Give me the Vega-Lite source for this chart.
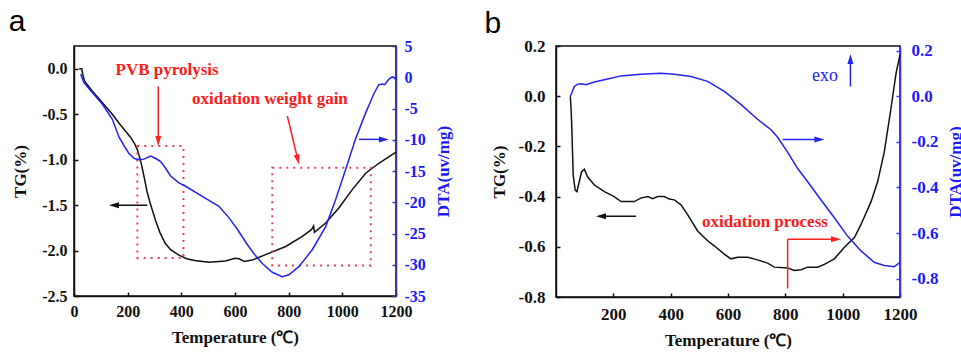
{
  "$schema": "https://vega.github.io/schema/vega-lite/v6.json",
  "padding": {"left": 8, "top": 6, "right": 0, "bottom": 0},
  "spacing": 30,
  "config": {
    "font": "Liberation Serif",
    "view": {"stroke": "#111111", "strokeWidth": 1.5},
    "axis": {
      "grid": false,
      "labelFont": "Liberation Serif", "labelFontWeight": "bold", "labelFontSize": 16, "labelColor": "#111111",
      "titleFont": "Liberation Serif", "titleFontWeight": "bold", "titleFontSize": 17, "titleColor": "#111111",
      "domainColor": "#111111", "domainWidth": 1.5, "tickColor": "#111111", "tickWidth": 1.5, "tickSize": -4,
      "labelFlush": false, "labelOverlap": false, "labelBound": false
    }
  },
  "datasets": {
    "tgA": [
      {"T":19,"v":0},{"T":29,"v":0},{"T":33,"v":-0.07},{"T":40,"v":-0.14},{"T":68,"v":-0.245},{"T":106,"v":-0.375},{"T":143,"v":-0.5},{"T":168,"v":-0.6},{"T":190,"v":-0.68},{"T":210,"v":-0.75},{"T":225,"v":-0.82},{"T":236,"v":-0.89},{"T":244,"v":-0.97},{"T":252,"v":-1.06},{"T":262,"v":-1.2},{"T":272,"v":-1.35},{"T":286,"v":-1.5},{"T":304,"v":-1.67},{"T":320,"v":-1.8},{"T":340,"v":-1.92},{"T":360,"v":-1.99},{"T":391,"v":-2.05},{"T":420,"v":-2.09},{"T":450,"v":-2.11},{"T":503,"v":-2.13},{"T":565,"v":-2.115},{"T":600,"v":-2.085},{"T":615,"v":-2.09},{"T":635,"v":-2.12},{"T":664,"v":-2.105},{"T":714,"v":-2.045},{"T":789,"v":-1.955},{"T":851,"v":-1.845},{"T":885,"v":-1.77},{"T":893,"v":-1.73},{"T":896,"v":-1.8},{"T":938,"v":-1.697},{"T":987,"v":-1.532},{"T":1037,"v":-1.33},{"T":1087,"v":-1.15},{"T":1136,"v":-1.04},{"T":1200,"v":-0.917}
    ],
    "dtaA": [
      {"T":25,"v":0.5},{"T":37,"v":-0.84},{"T":68,"v":-2.44},{"T":106,"v":-4.32},{"T":143,"v":-6.73},{"T":168,"v":-9.6},{"T":190,"v":-11.2},{"T":205,"v":-12.2},{"T":225,"v":-13.0},{"T":245,"v":-13.2},{"T":260,"v":-13.1},{"T":286,"v":-12.6},{"T":305,"v":-13.0},{"T":323,"v":-13.5},{"T":342,"v":-14.6},{"T":360,"v":-15.8},{"T":391,"v":-16.9},{"T":416,"v":-17.44},{"T":478,"v":-19.05},{"T":540,"v":-20.65},{"T":578,"v":-22.5},{"T":610,"v":-24.4},{"T":640,"v":-26.4},{"T":670,"v":-28.2},{"T":702,"v":-29.8},{"T":739,"v":-31.2},{"T":776,"v":-31.9},{"T":801,"v":-31.6},{"T":838,"v":-30.3},{"T":888,"v":-27.6},{"T":938,"v":-23.9},{"T":975,"v":-19.6},{"T":1012,"v":-14.8},{"T":1049,"v":-9.9},{"T":1087,"v":-5.7},{"T":1118,"v":-2.6},{"T":1136,"v":-1.2},{"T":1150,"v":-1.1},{"T":1158,"v":-1.2},{"T":1174,"v":-0.3},{"T":1186,"v":0.05},{"T":1195,"v":-0.1},{"T":1200,"v":-0.5}
    ],
    "tgB": [
      {"T":50,"v":0.0},{"T":53,"v":-0.06},{"T":55,"v":-0.12},{"T":60,"v":-0.315},{"T":67,"v":-0.374},{"T":73,"v":-0.38},{"T":81,"v":-0.341},{"T":89,"v":-0.302},{"T":99,"v":-0.291},{"T":110,"v":-0.321},{"T":134,"v":-0.354},{"T":169,"v":-0.38},{"T":203,"v":-0.4},{"T":227,"v":-0.42},{"T":273,"v":-0.42},{"T":296,"v":-0.406},{"T":320,"v":-0.4},{"T":337,"v":-0.408},{"T":355,"v":-0.4},{"T":378,"v":-0.4},{"T":395,"v":-0.41},{"T":413,"v":-0.413},{"T":436,"v":-0.433},{"T":459,"v":-0.472},{"T":494,"v":-0.537},{"T":529,"v":-0.576},{"T":552,"v":-0.596},{"T":587,"v":-0.629},{"T":610,"v":-0.648},{"T":634,"v":-0.642},{"T":669,"v":-0.642},{"T":703,"v":-0.652},{"T":738,"v":-0.665},{"T":762,"v":-0.681},{"T":808,"v":-0.684},{"T":831,"v":-0.694},{"T":855,"v":-0.691},{"T":878,"v":-0.681},{"T":913,"v":-0.681},{"T":936,"v":-0.67},{"T":971,"v":-0.648},{"T":1006,"v":-0.602},{"T":1041,"v":-0.563},{"T":1064,"v":-0.511},{"T":1099,"v":-0.42},{"T":1122,"v":-0.341},{"T":1145,"v":-0.223},{"T":1168,"v":-0.053},{"T":1186,"v":0.09},{"T":1200,"v":0.165}
    ],
    "dtaB": [
      {"T":50,"v":0.0},{"T":55,"v":0.014},{"T":64,"v":0.043},{"T":76,"v":0.053},{"T":87,"v":0.055},{"T":105,"v":0.05},{"T":134,"v":0.062},{"T":180,"v":0.075},{"T":227,"v":0.089},{"T":296,"v":0.096},{"T":366,"v":0.101},{"T":413,"v":0.096},{"T":471,"v":0.086},{"T":529,"v":0.065},{"T":587,"v":0.021},{"T":645,"v":-0.036},{"T":703,"v":-0.101},{"T":750,"v":-0.147},{"T":773,"v":-0.18},{"T":808,"v":-0.245},{"T":843,"v":-0.317},{"T":878,"v":-0.375},{"T":924,"v":-0.454},{"T":971,"v":-0.533},{"T":1017,"v":-0.613},{"T":1064,"v":-0.678},{"T":1110,"v":-0.728},{"T":1145,"v":-0.742},{"T":1180,"v":-0.747},{"T":1200,"v":-0.728}
    ]
  },
  "hconcat": [
    {
      "width": 322, "height": 250,
      "resolve": {"scale": {"y": "independent"}},
      "layer": [
        {
          "encoding": {
            "x": {"field": "T", "type": "quantitative", "scale": {"domain": [0, 1200], "nice": false},
                  "axis": {"title": "Temperature (℃)", "values": [0,200,400,600,800,1000,1200], "format": "d", "labelPadding": 11, "titlePadding": 10}},
            "y": {"field": "v", "type": "quantitative", "scale": {"domain": [-2.5, 0.25], "nice": false, "zero": false},
                  "axis": {"orient": "left", "title": "TG(%)", "values": [0,-0.5,-1,-1.5,-2,-2.5], "format": ".1f", "labelExpr": "replace(datum.label, '\u2212', '-')", "labelPadding": 11, "titlePadding": 12}}
          },
          "layer": [
            {"data": {"name": "tgA"}, "mark": {"type": "line", "color": "#111111", "strokeWidth": 1.5}},
            {
              "data": {"values": [{"T":236,"T2":408,"v":-0.851,"v2":-2.083},{"T":739,"T2":1106,"v":-1.09,"v2":-2.165}]},
              "mark": {"type": "rect", "fillOpacity": 0, "stroke": "#e8405f", "strokeWidth": 2, "strokeDash": [2, 5]},
              "encoding": {"x2": {"field": "T2"}, "y2": {"field": "v2"}}
            },
            {
              "data": {"values": [{"T":314,"T2":314,"v":-0.195,"v2":-0.796},{"T":795,"T2":834,"v":-0.52,"v2":-1.0}]},
              "mark": {"type": "rule", "color": "#ff2020", "strokeWidth": 1.5},
              "encoding": {"x2": {"field": "T2"}, "y2": {"field": "v2"}}
            },
            {
              "data": {"values": [{"T":314,"v":-0.796}]},
              "mark": {"type": "point", "shape": "M-1,-0.6L1,0L-1,0.6Z", "filled": true, "size": 100, "opacity": 1, "color": "#ff2020", "angle": 90}
            },
            {
              "data": {"values": [{"T":834,"v":-1.0}]},
              "mark": {"type": "point", "shape": "M-1,-0.6L1,0L-1,0.6Z", "filled": true, "size": 100, "opacity": 1, "color": "#ff2020", "angle": 76}
            },
            {
              "data": {"values": [{"T":273,"T2":149,"v":-1.503,"v2":-1.503}]},
              "mark": {"type": "rule", "color": "#111111", "strokeWidth": 1.5},
              "encoding": {"x2": {"field": "T2"}, "y2": {"field": "v2"}}
            },
            {
              "data": {"values": [{"T":149,"v":-1.503}]},
              "mark": {"type": "point", "shape": "M-1,-0.6L1,0L-1,0.6Z", "filled": true, "size": 100, "opacity": 1, "color": "#111111", "angle": 180}
            },
            {
              "data": {"values": [{"T":347,"v":-0.012,"label":"PVB pyrolysis"},{"T":730,"v":-0.335,"label":"oxidation weight gain"}]},
              "mark": {"type": "text", "font": "Liberation Serif", "fontWeight": "bold", "fontSize": 17, "color": "#ff1a1a", "align": "center", "baseline": "middle"},
              "encoding": {"text": {"field": "label"}}
            },
            {
              "data": {"values": [{"T":-212,"v":0.41,"label":"a"}]},
              "mark": {"type": "text", "font": "Liberation Sans", "fontSize": 30, "color": "#000000", "align": "center", "baseline": "alphabetic"},
              "encoding": {"text": {"field": "label"}}
            }
          ]
        },
        {
          "encoding": {
            "x": {"field": "T", "type": "quantitative", "scale": {"domain": [0, 1200], "nice": false}},
            "y": {"field": "v", "type": "quantitative", "scale": {"domain": [-35, 5], "nice": false, "zero": false},
                  "axis": {"orient": "right", "title": "DTA(uv/mg)", "values": [-35,-30,-25,-20,-15,-10,-5,0,5], "format": "d", "labelExpr": "replace(datum.label, '\u2212', '-')",
                           "domainColor": "#33339a", "tickColor": "#33339a", "labelColor": "#1a1aff", "titleColor": "#1a1aff",
                           "titleAngle": 270, "titleBaseline": "top", "labelPadding": 12, "titlePadding": 10}}
          },
          "layer": [
            {"data": {"name": "dtaA"}, "mark": {"type": "line", "color": "#2424f0", "strokeWidth": 1.5}},
            {
              "data": {"values": [{"T":1062,"T2":1155,"v":-9.94,"v2":-9.94}]},
              "mark": {"type": "rule", "color": "#2424f0", "strokeWidth": 1.5},
              "encoding": {"x2": {"field": "T2"}, "y2": {"field": "v2"}}
            },
            {
              "data": {"values": [{"T":1155,"v":-9.94}]},
              "mark": {"type": "point", "shape": "M-1,-0.6L1,0L-1,0.6Z", "filled": true, "size": 100, "opacity": 1, "color": "#2424f0", "angle": 0}
            }
          ]
        }
      ]
    },
    {
      "width": 344, "height": 251,
      "resolve": {"scale": {"y": "independent"}},
      "layer": [
        {
          "encoding": {
            "x": {"field": "T", "type": "quantitative", "scale": {"domain": [0, 1200], "nice": false},
                  "axis": {"title": "Temperature (℃)", "values": [200,400,600,800,1000,1200], "format": "d", "labelFontSize": 17, "labelPadding": 13, "titlePadding": 10}},
            "y": {"field": "v", "type": "quantitative", "scale": {"domain": [-0.8, 0.2], "nice": false, "zero": false},
                  "axis": {"orient": "left", "title": "TG(%)", "values": [-0.8,-0.6,-0.4,-0.2,0,0.2], "format": ".1f", "labelExpr": "replace(datum.label, '\u2212', '-')", "labelFontSize": 17, "labelPadding": 15, "titlePadding": 10}}
          },
          "layer": [
            {"data": {"name": "tgB"}, "mark": {"type": "line", "color": "#111111", "strokeWidth": 1.5}},
            {
              "data": {"values": [{"T":279,"T2":157,"v":-0.478,"v2":-0.478}]},
              "mark": {"type": "rule", "color": "#111111", "strokeWidth": 1.5},
              "encoding": {"x2": {"field": "T2"}, "y2": {"field": "v2"}}
            },
            {
              "data": {"values": [{"T":157,"v":-0.478}]},
              "mark": {"type": "point", "shape": "M-1,-0.6L1,0L-1,0.6Z", "filled": true, "size": 100, "opacity": 1, "color": "#111111", "angle": 180}
            },
            {
              "data": {"values": [{"T":808,"T2":808,"v":-0.766,"v2":-0.57},{"T":808,"T2":977,"v":-0.57,"v2":-0.57}]},
              "mark": {"type": "rule", "color": "#ff2020", "strokeWidth": 1.5},
              "encoding": {"x2": {"field": "T2"}, "y2": {"field": "v2"}}
            },
            {
              "data": {"values": [{"T":977,"v":-0.57}]},
              "mark": {"type": "point", "shape": "M-1,-0.6L1,0L-1,0.6Z", "filled": true, "size": 100, "opacity": 1, "color": "#ff2020", "angle": 0}
            },
            {
              "data": {"values": [{"T":729,"v":-0.502,"label":"oxidation process"}]},
              "mark": {"type": "text", "font": "Liberation Serif", "fontWeight": "bold", "fontSize": 17, "color": "#ff1a1a", "align": "center", "baseline": "middle"},
              "encoding": {"text": {"field": "label"}}
            },
            {
              "data": {"values": [{"T":-220,"v":0.252,"label":"b"}]},
              "mark": {"type": "text", "font": "Liberation Sans", "fontSize": 30, "color": "#000000", "align": "center", "baseline": "alphabetic"},
              "encoding": {"text": {"field": "label"}}
            }
          ]
        },
        {
          "encoding": {
            "x": {"field": "T", "type": "quantitative", "scale": {"domain": [0, 1200], "nice": false}},
            "y": {"field": "v", "type": "quantitative", "scale": {"domain": [-0.88, 0.22], "nice": false, "zero": false},
                  "axis": {"orient": "right", "title": "DTA(uv/mg)", "values": [-0.8,-0.6,-0.4,-0.2,0,0.2], "format": ".1f", "labelExpr": "replace(datum.label, '\u2212', '-')",
                           "domainColor": "#3535ff", "tickColor": "#3535ff", "labelColor": "#1a1aff", "titleColor": "#1a1aff",
                           "labelFontSize": 17, "titleAngle": 270, "titleBaseline": "top", "labelPadding": 15, "titlePadding": 10}}
          },
          "layer": [
            {"data": {"name": "dtaB"}, "mark": {"type": "line", "color": "#2424f0", "strokeWidth": 1.5}},
            {
              "data": {"values": [{"T":1027,"T2":1027,"v":0.043,"v2":0.163},{"T":791,"T2":919,"v":-0.19,"v2":-0.19}]},
              "mark": {"type": "rule", "color": "#2424f0", "strokeWidth": 1.5},
              "encoding": {"x2": {"field": "T2"}, "y2": {"field": "v2"}}
            },
            {
              "data": {"values": [{"T":1027,"v":0.163}]},
              "mark": {"type": "point", "shape": "M-1,-0.6L1,0L-1,0.6Z", "filled": true, "size": 100, "opacity": 1, "color": "#2424f0", "angle": 270}
            },
            {
              "data": {"values": [{"T":919,"v":-0.19}]},
              "mark": {"type": "point", "shape": "M-1,-0.6L1,0L-1,0.6Z", "filled": true, "size": 100, "opacity": 1, "color": "#2424f0", "angle": 0}
            },
            {
              "data": {"values": [{"T":938,"v":0.09,"label":"exo"}]},
              "mark": {"type": "text", "font": "Liberation Serif", "fontWeight": "normal", "fontSize": 18, "color": "#2424f0", "align": "center", "baseline": "middle"},
              "encoding": {"text": {"field": "label"}}
            }
          ]
        }
      ]
    }
  ]
}
